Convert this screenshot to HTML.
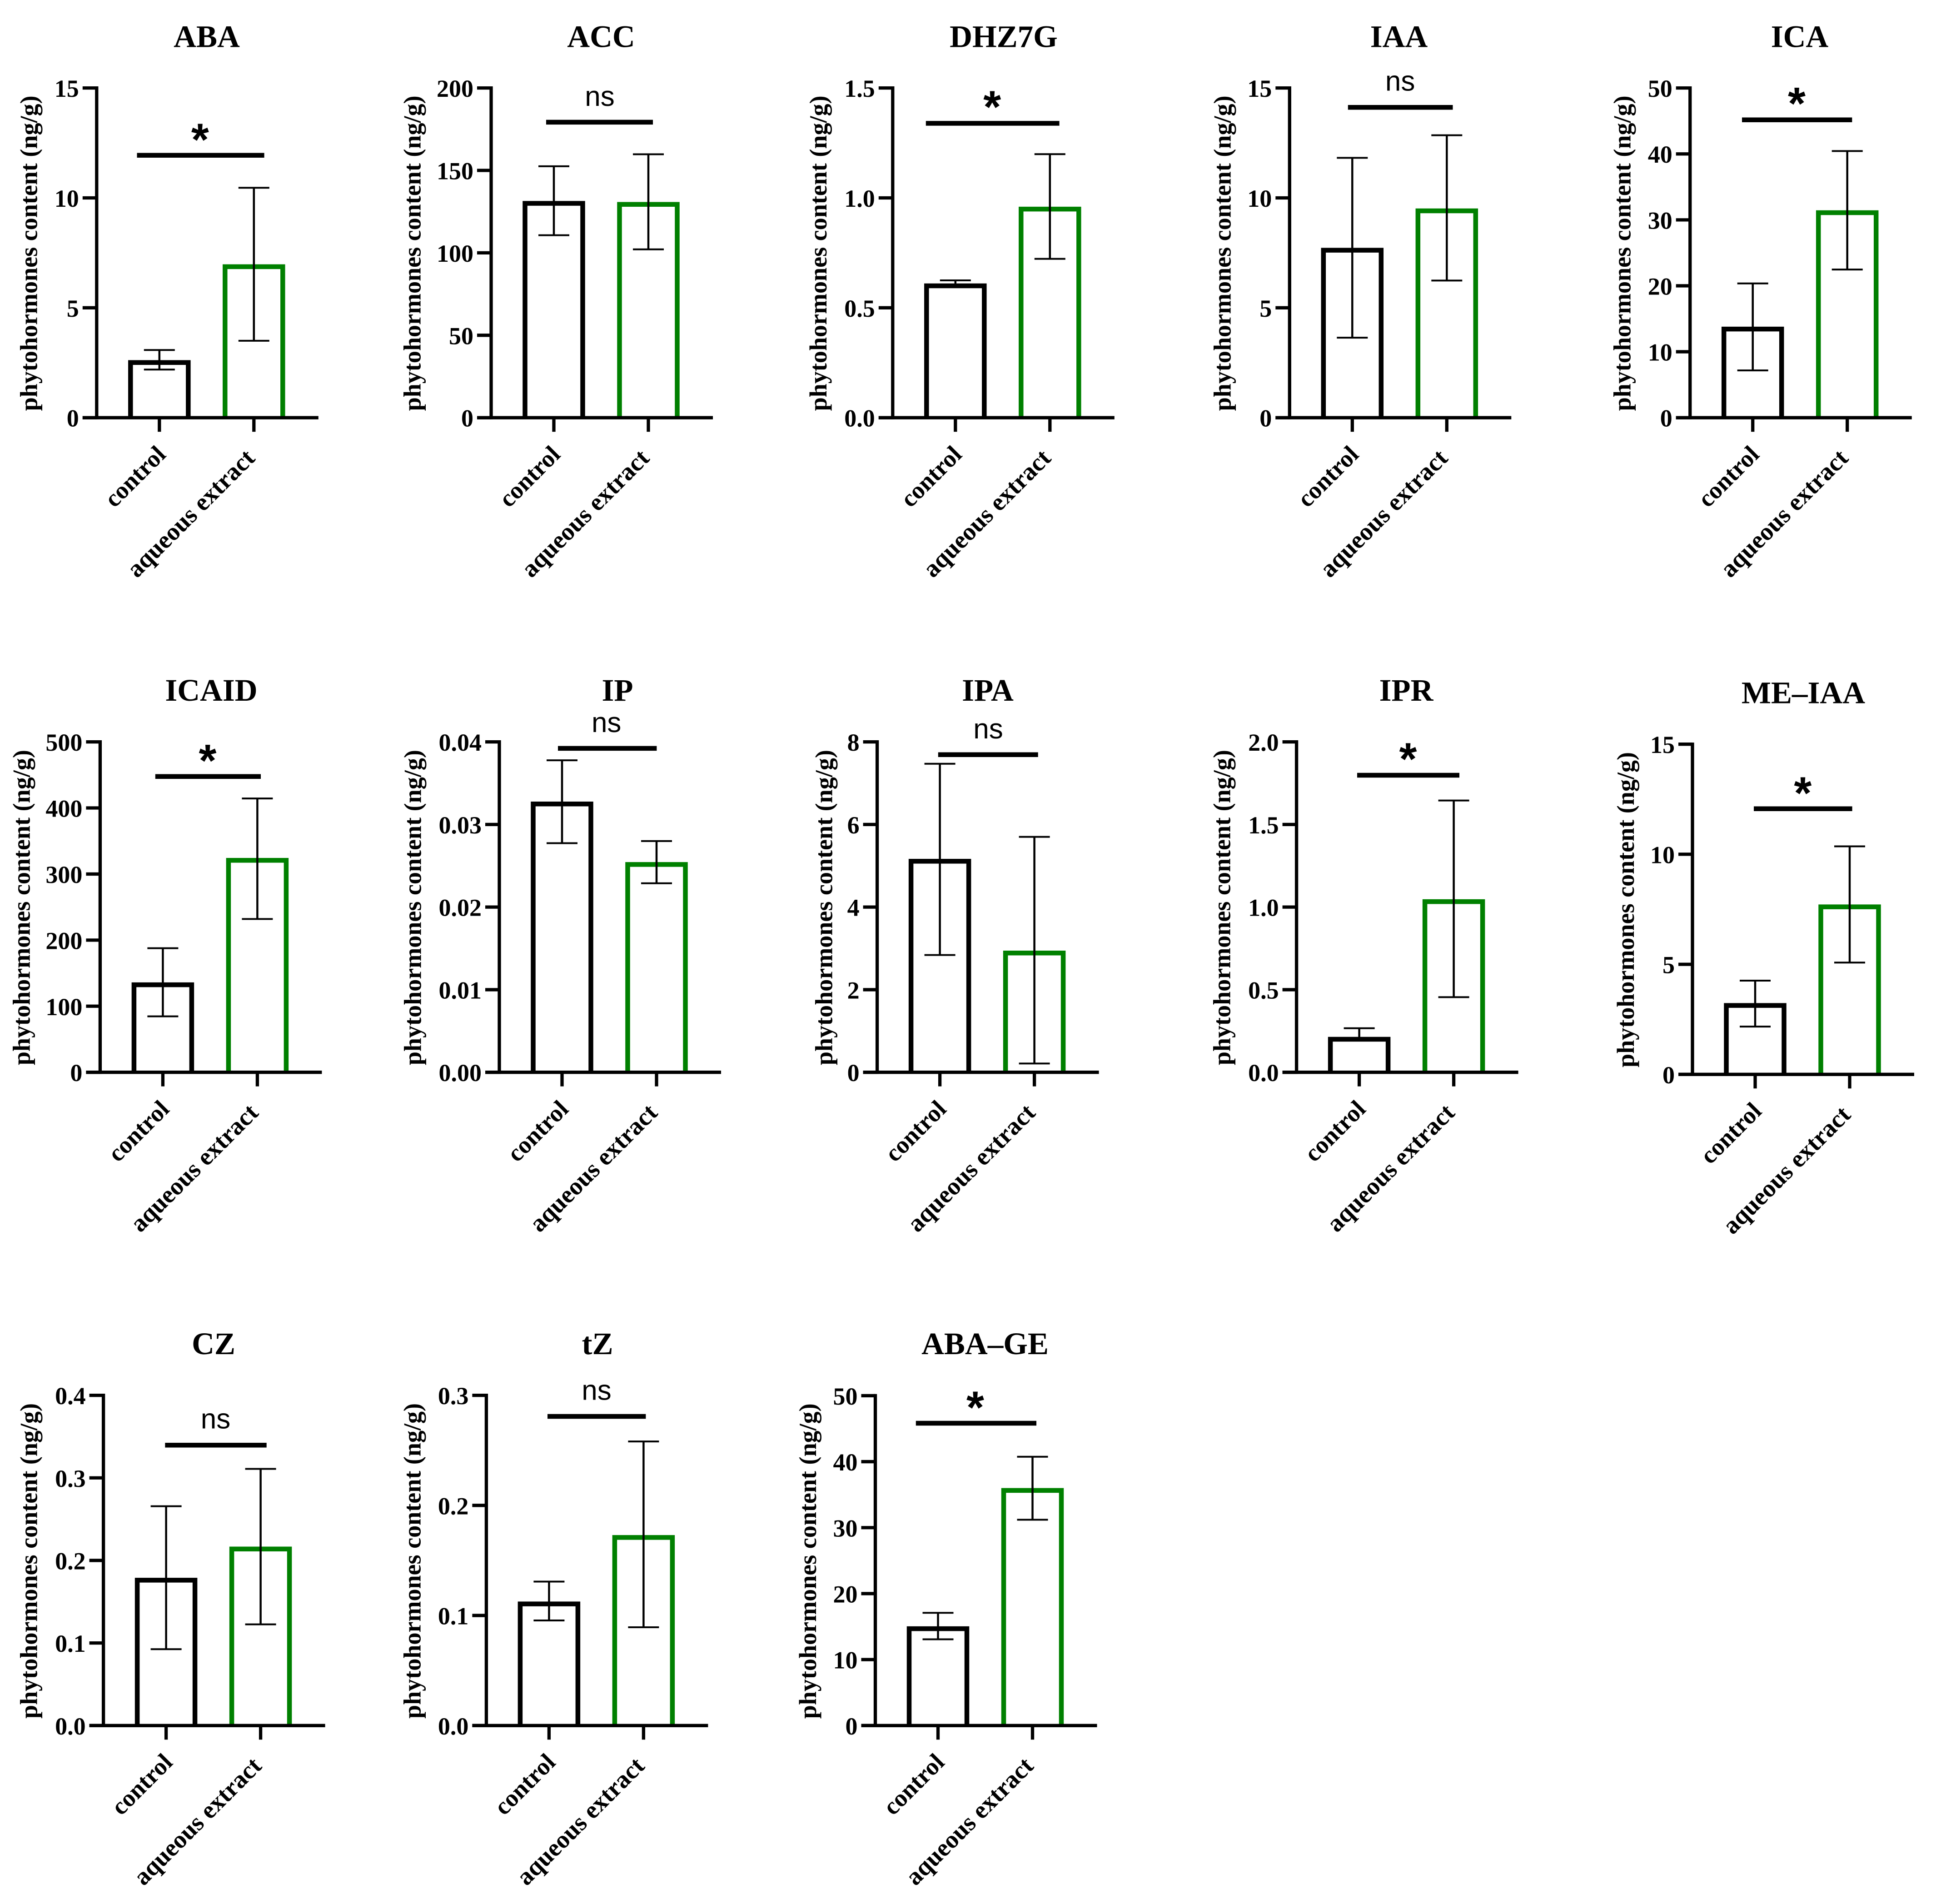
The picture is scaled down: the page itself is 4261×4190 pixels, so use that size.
<!DOCTYPE html>
<html lang="en">
<head>
<meta charset="utf-8">
<title>Phytohormones content</title>
<style>
  html, body { margin: 0; padding: 0; background: #ffffff; }
  svg { display: block; }
  .serif { font-family: "Liberation Serif", serif; font-weight: bold; fill: #000; }
  .sans { font-family: "Liberation Sans", sans-serif; fill: #000; }
</style>
</head>
<body>
<svg id="figure" xmlns="http://www.w3.org/2000/svg" width="4261" height="4190" viewBox="0 0 4261 4190"></svg>
<script>
const titles = ["ABA","ACC","DHZ7G","IAA","ICA","ICAID","IP","IPA","IPR","ME\u2013IAA","CZ","tZ","ABA\u2013GE"];
const categories = ["control","aqueous extract"];
const yAxisTitle = "phytohormones content (ng/g)";
const tickLabels = [
  ["0","5","10","15"],
  ["0","50","100","150","200"],
  ["0.0","0.5","1.0","1.5"],
  ["0","5","10","15"],
  ["0","10","20","30","40","50"],
  ["0","100","200","300","400","500"],
  ["0.00","0.01","0.02","0.03","0.04"],
  ["0","2","4","6","8"],
  ["0.0","0.5","1.0","1.5","2.0"],
  ["0","5","10","15"],
  ["0.0","0.1","0.2","0.3","0.4"],
  ["0.0","0.1","0.2","0.3"],
  ["0","10","20","30","40","50"]
];
const controlMean = [2.51,130.0,0.600,7.62,13.44,132.4,0.03248,5.11,0.200,3.13,0.1761,0.1105,14.68];
const controlHigh = [3.08,152.5,0.6246,11.82,20.36,187.8,0.03777,7.47,0.2666,4.26,0.2657,0.1308,17.09];
const controlLow  = [2.19,110.7,0.60,3.64,7.17,84.6,0.02774,2.84,0.195,2.17,0.0925,0.0955,13.07];
const extractMean = [6.87,129.4,0.949,9.41,31.09,320.8,0.02516,2.887,1.033,7.61,0.2139,0.1709,35.64];
const extractHigh = [10.46,159.8,1.199,12.85,40.44,414.4,0.02799,5.70,1.645,10.36,0.3109,0.2581,40.75];
const extractLow  = [3.50,102.1,0.7226,6.24,22.47,232,0.02288,0.213,0.4548,5.08,0.1226,0.0893,31.2];
const significance = ["*","ns","*","ns","*","*","ns","ns","*","*","ns","ns","*"];

/* panel placement on the page (not data) */
const layout = [
  {axis:212.8, top:193.6,base:919.2,titleX:455, titleY:103.5,labelX:81.6,  barX1:301.5, barX2:581.6, barY:341.8, markX:440.3, markY:292.7},
  {axis:1081,  top:193.6,base:919.2,titleX:1323,titleY:103.5,labelX:925.5, barX1:1202,  barX2:1437,  barY:268.9, markX:1320,  markY:233.2},
  {axis:1964.8,top:193.6,base:919.2,titleX:2209,titleY:103.5,labelX:1818.9,barX1:2037.8,barX2:2331.6,barY:271.4, markX:2183.7,markY:220.6},
  {axis:2838.3,top:193.6,base:919.2,titleX:3079,titleY:103.5,labelX:2708.7,barX1:2966.8,barX2:3197.5,barY:236.2, markX:3081.6,markY:199.5},
  {axis:3719.7,top:193.6,base:919.2,titleX:3961,titleY:103.5,labelX:3588.6,barX1:3834,  barX2:4076.3,barY:263.8, markX:3954.4,markY:213},
  {axis:220.4, top:1632.6,base:2359.7,titleX:465, titleY:1542,labelX:65.3,  barX1:341.8, barX2:574,   barY:1708.7,markX:457,   markY:1659},
  {axis:1099,  top:1632.6,base:2359.7,titleX:1359,titleY:1542,labelX:926.5, barX1:1228,  barX2:1445.4,barY:1646.9,markX:1334.7,markY:1611},
  {axis:1930.6,top:1632.6,base:2359.7,titleX:2174,titleY:1542,labelX:1831.6,barX1:2064.8,barX2:2284.7,barY:1660.7,markX:2175,  markY:1625},
  {axis:2853.6,top:1632.6,base:2359.7,titleX:3095,titleY:1542,labelX:2707.7,barX1:2987,  barX2:3212,  barY:1706,  markX:3099,  markY:1655.4},
  {axis:3725,  top:1637.7,base:2364.3,titleX:3969,titleY:1547.3,labelX:3596,barX1:3860,  barX2:4076.6,barY:1779.7,markX:3967.8,markY:1730.7},
  {axis:227.6, top:3070.6,base:3797.3,titleX:470, titleY:2980,labelX:81.6,  barX1:363.3, barX2:586.7, barY:3180.3,markX:474.5, markY:3143.5},
  {axis:1070.4,top:3070.6,base:3797.3,titleX:1315,titleY:2980,labelX:925.5, barX1:1205,  barX2:1421.4,barY:3117,  markX:1313,  markY:3080.4},
  {axis:1926.5,top:3071.4,base:3797.3,titleX:2168,titleY:2980,labelX:1796,  barX1:2015.8,barX2:2281,  barY:3132,  markX:2146.4,markY:3082.5}
];

const NS = "http://www.w3.org/2000/svg";
const figure = document.getElementById("figure");
const CONTROL_OFFSET = 138;
const EXTRACT_OFFSET = 346;
const BAR_HALF = 63.5;
const CAP_HALF = 34;

function make(parent, tag, attrs, text) {
  const node = document.createElementNS(NS, tag);
  for (const key in attrs) node.setAttribute(key, attrs[key]);
  if (text !== undefined) node.textContent = text;
  parent.appendChild(node);
  return node;
}
function slug(s) { return s.toLowerCase().replace(/[^a-z0-9]+/g, "-"); }

titles.forEach(function (title, p) {
  const L = layout[p];
  const labels = tickLabels[p];
  const yMax = Number(labels[labels.length - 1]);
  const yScale = function (v) { return L.base - (v / yMax) * (L.base - L.top); };
  const xCategory = function (i) { return L.axis + (i === 0 ? CONTROL_OFFSET : EXTRACT_OFFSET); };
  const key = slug(title);

  const g = make(figure, "g", {});
  
  

  const titleEl = make(g, "text", {x: L.titleX, y: L.titleY, "text-anchor": "middle", "font-size": 69, class: "serif"}, title);
  
  

  const yTitle = make(g, "text", {
    transform: "translate(" + L.labelX + "," + ((L.top + L.base) / 2 + 1) + ") rotate(-90)",
    "text-anchor": "middle", "font-size": 54, class: "serif", textLength: 694, lengthAdjust: "spacingAndGlyphs"
  }, yAxisTitle);
  
  

  /* bars */
  const means = [controlMean[p], extractMean[p]];
  const highs = [controlHigh[p], extractHigh[p]];
  const lows = [controlLow[p], extractLow[p]];
  const colours = ["#000000", "#008000"];
  means.forEach(function (m, i) {
    const cx = xCategory(i);
    const bar = make(g, "path", {
      d: "M" + (cx - BAR_HALF) + " " + L.base + "V" + yScale(m) + "H" + (cx + BAR_HALF) + "V" + L.base,
      fill: "none", stroke: colours[i], "stroke-width": 10.5, "stroke-linejoin": "miter"
    });
    
    
  });

  /* axes */
  const yAxis = make(g, "line", {x1: L.axis, x2: L.axis, y1: L.top - 3.6, y2: L.base + 3.6, stroke: "#000", "stroke-width": 7.3});
  
  
  const xAxis = make(g, "line", {x1: L.axis - 31, x2: L.axis + 488, y1: L.base, y2: L.base, stroke: "#000", "stroke-width": 7.3});
  
  

  labels.forEach(function (lab) {
    const y = yScale(Number(lab));
    const tick = make(g, "line", {x1: L.axis - 31, x2: L.axis, y1: y, y2: y, stroke: "#000", "stroke-width": 7.3});
    
    
    const tickText = make(g, "text", {x: L.axis - 39, y: y + 19.5, "text-anchor": "end", "font-size": 54, class: "serif"}, lab);
    
    
  });

  categories.forEach(function (cat, i) {
    const cx = xCategory(i);
    const tick = make(g, "line", {x1: cx, x2: cx, y1: L.base, y2: L.base + 31, stroke: "#000", "stroke-width": 7.3});
    
    
    const ax = cx + (i === 0 ? 17 : 5);
    const ay = L.base + (i === 0 ? 84 : 92);
    const catText = make(g, "text", {
      transform: "translate(" + ax + "," + ay + ") rotate(-45)",
      "text-anchor": "end", "font-size": i === 0 ? 54 : 55, class: "serif"
    }, cat);
    
    
  });

  /* error bars */
  means.forEach(function (m, i) {
    const cx = xCategory(i);
    const hiY = yScale(highs[i]);
    const loY = yScale(lows[i]);
    const stem = make(g, "line", {x1: cx, x2: cx, y1: hiY, y2: loY, stroke: "#000", "stroke-width": 4.5});
    
    
    const capHi = make(g, "line", {x1: cx - CAP_HALF, x2: cx + CAP_HALF, y1: hiY, y2: hiY, stroke: "#000", "stroke-width": 4});
    
    
    const capLo = make(g, "line", {x1: cx - CAP_HALF, x2: cx + CAP_HALF, y1: loY, y2: loY, stroke: "#000", "stroke-width": 4});
    
    
  });

  /* significance */
  const sigBar = make(g, "line", {x1: L.barX1, x2: L.barX2, y1: L.barY, y2: L.barY, stroke: "#000", "stroke-width": 10.5});
  
  
  const isStar = significance[p] === "*";
  const sigText = make(g, "text", {
    x: L.markX, y: isStar ? L.markY + 49 : L.markY, "text-anchor": "middle",
    "font-size": isStar ? 100 : 62, "font-weight": isStar ? "bold" : "normal", class: "sans"
  }, significance[p]);
  
  
});
</script>
</body>
</html>
